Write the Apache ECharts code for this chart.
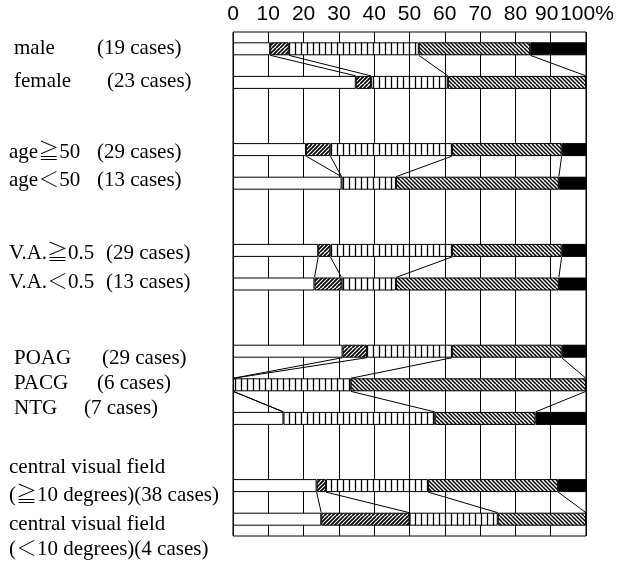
<!DOCTYPE html>
<html>
<head>
<meta charset="utf-8">
<script src="https://cdn.jsdelivr.net/npm/echarts@6/dist/echarts.min.js"></script>
<style>
html,body{margin:0;padding:0;background:#fff;}
#chart{width:618px;height:562px;}
</style>
</head>
<body>
<div id="chart"></div>
<script>
// ---- data (number of cases per category) ----
const rows = ['male', 'female', '', 'age≧50', 'age＜50', '', 'V.A.≧0.5', 'V.A.＜0.5', '', 'POAG', 'PACG', 'NTG', '', 'cvf≧10', 'cvf＜10'];
const cases  = [19, 23, null, 29, 13, null, 29, 13, null, 29, 6, 7, null, 38, 4];
const white  = [2, 8, null, 6, 4, null, 7, 3, null, 9, 0, 1, null, 9, 1];
const hatchA = [1, 1, null, 2, 0, null, 1, 1, null, 2, 0, 0, null, 1, 1];
const vert   = [7, 5, null, 10, 2, null, 10, 2, null, 7, 2, 3, null, 11, 1];
const hatchB = [6, 9, null, 9, 6, null, 9, 6, null, 9, 4, 2, null, 14, 1];
const black  = [3, 0, null, 2, 1, null, 2, 1, null, 2, 0, 1, null, 3, 0];
const groups = [[0, 1], [3, 4], [6, 7], [9, 10, 11], [13, 14]];
const tickValues = [0, 10, 20, 30, 40, 50, 60, 70, 80, 90];
const lastTick = '100%';

const labelNames = ['male', 'female', 'age≧50', 'age＜50', 'V.A.≧0.5', 'V.A.＜0.5', 'POAG', 'PACG', 'NTG'];
const labelCases = ['(19 cases)', '(23 cases)', '(29 cases)', '(13 cases)', '(29 cases)', '(13 cases)', '(29 cases)', '(6 cases)', '(7 cases)'];
const labelCvf = ['central visual field', '(≧10 degrees)(38 cases)', 'central visual field', '(＜10 degrees)(4 cases)'];

// ---- layout (positions, not data) ----
const nameXY = [[14, 48], [14, 81], [9, 152], [9, 180], [9, 253], [9, 282], [14, 358], [14, 383], [14, 408]];
const casesX = [97, 107, 97, 97, 106, 106, 102, 97, 84];
const cvfY = [467, 495, 524, 549];

function makePattern(type) {
  const S = 12;
  const c = document.createElement('canvas');
  c.width = S; c.height = S;
  const ctx = c.getContext('2d');
  ctx.fillStyle = '#fff';
  ctx.fillRect(0, 0, S, S);
  ctx.strokeStyle = '#000';
  ctx.beginPath();
  if (type === 'vert') {
    ctx.lineWidth = 1.3;
    for (let x = 1.5; x < S; x += 6) { ctx.moveTo(x, 0); ctx.lineTo(x, S); }
  } else if (type === 'fwd') {
    ctx.lineWidth = 1.7;
    for (let k = -4; k <= 7; k++) { ctx.moveTo(k * 4, S); ctx.lineTo(k * 4 + S, 0); }
  } else {
    ctx.lineWidth = 1.5;
    for (let k = -4; k <= 7; k++) { ctx.moveTo(k * 4, 0); ctx.lineTo(k * 4 + S, S); }
  }
  ctx.stroke();
  return { image: c, repeat: 'repeat' };
}

const segs = [white, hatchA, vert, hatchB, black];
const fills = ['#ffffff', makePattern('fwd'), makePattern('vert'), makePattern('back'), '#000000'];

function pct(arr) {
  return arr.map((v, i) => (v === null || v === 0 || !cases[i]) ? '-' : v / cases[i] * 100);
}

// cumulative boundaries for connector lines
function cumul(i) {
  const out = [];
  let s = 0;
  for (let k = 0; k < 4; k++) { s += segs[k][i]; out.push(s / cases[i] * 100); }
  return out;
}
const connectors = [];
groups.forEach(g => {
  for (let j = 0; j < g.length - 1; j++) {
    const a = cumul(g[j]), b = cumul(g[j + 1]);
    for (let k = 0; k < 4; k++) connectors.push([a[k], g[j], b[k], g[j + 1]]);
  }
});

const BAR_W = 13;
const serif = '"Liberation Serif", "Noto Serif CJK JP", "Noto Sans CJK JP", serif';
const FONT = '21px ' + serif;
const SANS = '"Liberation Sans", Arial, sans-serif';
const TICK_FS = 21;

const graphics = [];
labelNames.forEach((t, i) => {
  graphics.push({ type: 'text', x: nameXY[i][0], y: nameXY[i][1],
    style: { text: t, font: FONT, fill: '#000', verticalAlign: 'middle', textVerticalAlign: 'middle' } });
  graphics.push({ type: 'text', x: casesX[i], y: nameXY[i][1],
    style: { text: labelCases[i], font: FONT, fill: '#000', verticalAlign: 'middle', textVerticalAlign: 'middle' } });
});
labelCvf.forEach((t, i) => {
  graphics.push({ type: 'text', x: 9, y: cvfY[i],
    style: { text: t, font: FONT, fill: '#000', verticalAlign: 'middle', textVerticalAlign: 'middle' } });
});

const series = segs.map((arr, k) => ({
  type: 'bar',
  stack: 'all',
  barWidth: BAR_W,
  data: pct(arr),
  itemStyle: { color: fills[k], borderColor: '#000', borderWidth: 1 },
  emphasis: { disabled: true },
  silent: true,
  z: 3
}));

series.push({
  type: 'custom',
  coordinateSystem: 'cartesian2d',
  silent: true,
  z: 4,
  encode: { x: [0, 2], y: [1, 3] },
  data: connectors,
  renderItem: function (params, api) {
    const p1 = api.coord([api.value(0), api.value(1)]);
    const p2 = api.coord([api.value(2), api.value(3)]);
    return {
      type: 'line',
      shape: { x1: p1[0], y1: p1[1] + BAR_W / 2, x2: p2[0], y2: p2[1] - BAR_W / 2 },
      style: { stroke: '#000', lineWidth: 1 }
    };
  }
});

const chart = echarts.init(document.getElementById('chart'), null, { renderer: 'canvas' });
chart.setOption({
  animation: false,
  backgroundColor: '#fff',
  grid: { left: 233, right: 32, top: 32, bottom: 26, containLabel: false, outerBoundsMode: 'none',
    show: true, borderColor: '#000', borderWidth: 1, backgroundColor: '#fff' },
  xAxis: [{
    type: 'value', position: 'top', min: 0, max: 100, interval: 10,
    axisLine: { show: false }, axisTick: { show: false },
    splitLine: { show: true, lineStyle: { color: '#000', width: 1 } },
    axisLabel: {
      margin: 7, color: '#000', fontSize: TICK_FS, fontFamily: SANS,
      hideOverlap: false, showMinLabel: true,
      formatter: v => tickValues.indexOf(v) < 0 ? '' : (v === 90 ? '{n|' + v + '}' : String(v)),
      rich: { n: { fontSize: TICK_FS, fontFamily: SANS, color: '#000', padding: [0, 8, 0, 0] } }
    }
  }, {
    type: 'value', position: 'top', min: 0, max: 100, interval: 10, offset: 0,
    axisLine: { show: false }, axisTick: { show: false }, splitLine: { show: false },
    axisLabel: {
      margin: 7, color: '#000', fontSize: TICK_FS, fontFamily: SANS, showMaxLabel: true,
      formatter: v => v === 100 ? '{last|' + lastTick + '}' : '',
      rich: { last: { fontSize: TICK_FS, fontFamily: SANS, color: '#000', padding: [0, 0, 0, 2] } }
    }
  }],
  yAxis: {
    type: 'category', data: rows, inverse: true,
    axisLine: { show: false }, axisTick: { show: false }, axisLabel: { show: false },
    splitLine: { show: false }
  },
  series: series,
  graphic: graphics
});
</script>
</body>
</html>
